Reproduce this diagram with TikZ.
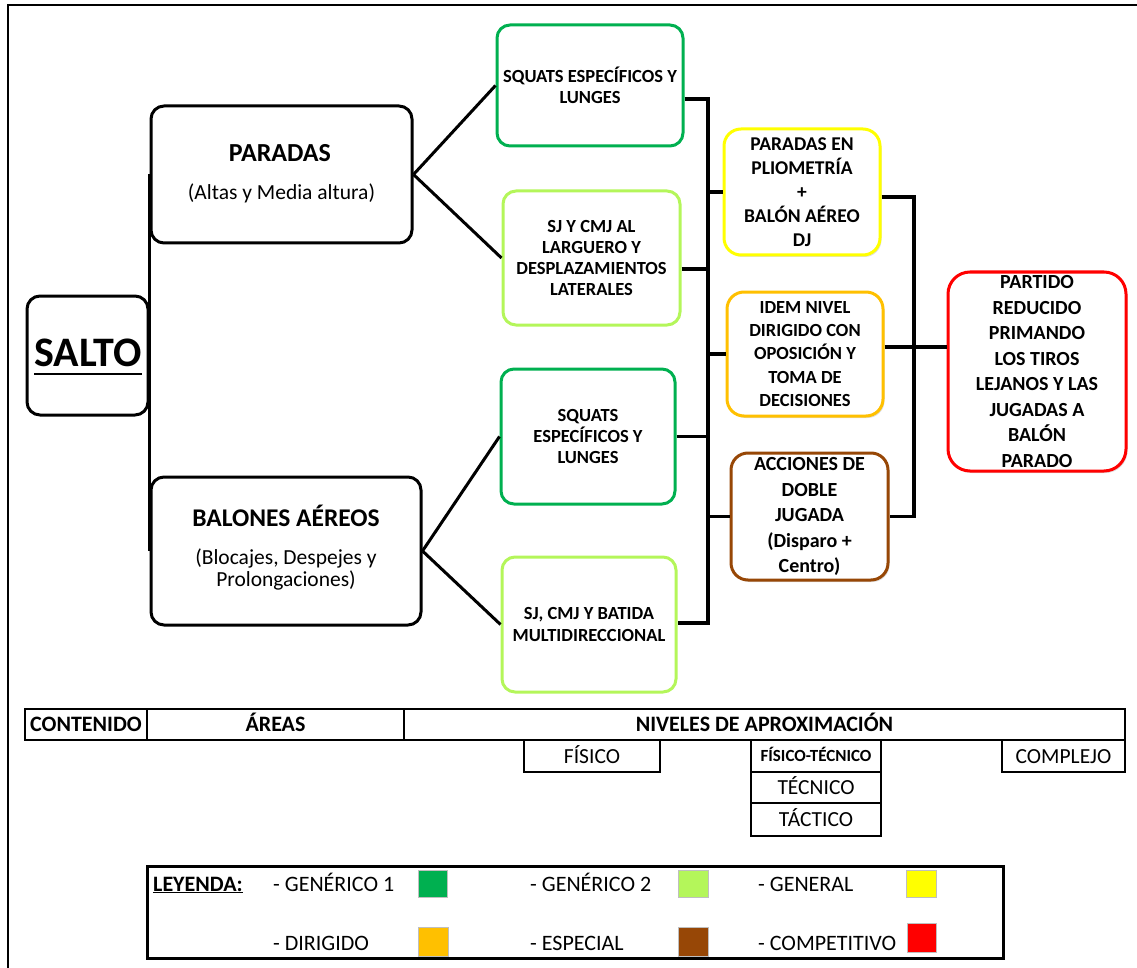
\documentclass[tikz,border=0pt]{standalone}
\usepackage{fontspec}
\setmainfont{Carlito}
\usetikzlibrary{shadows,calc}
\definecolor{cgreen}{RGB}{0,176,80}
\definecolor{clgreen}{RGB}{180,246,90}
\definecolor{cyellow}{RGB}{255,255,0}
\definecolor{corange}{RGB}{255,192,0}
\definecolor{cbrown}{RGB}{151,71,6}
\definecolor{cred}{RGB}{255,0,0}
\tikzset{
  box/.style={draw, rounded corners=13pt, line width=3pt, align=center, inner sep=0pt, fill=white,
    font=\bfseries\fontsize{18.5}{21}\selectfont},
  shad/.style={drop shadow={opacity=0.25, shadow xshift=1.5pt, shadow yshift=-2pt}},
  conn/.style={line width=3.5pt},
  diag/.style={line width=3pt},
  cell/.style={draw, line width=2pt, inner sep=0pt, text height=14pt, text depth=0pt,
    font=\fontsize{21.5}{24}\selectfont},
  hcell/.style={cell, line width=2.5pt, font=\bfseries\fontsize{22}{24}\selectfont},
  sw/.style={draw=black!25, line width=0.6pt, inner sep=0pt},
  lgtext/.style={anchor=base west, inner sep=0pt, font=\fontsize{22}{24}\selectfont},
}
\begin{document}
\begin{tikzpicture}[x=1pt,y=-1pt]
\useasboundingbox (0,0) rectangle (1137,968);
% outer frame
\draw[line width=2.5pt] (8,990) -- (8,5) -- (1160,5);

% level 0 and 1
\node[box, minimum width=121pt, minimum height=119pt] (salto) at (87.5,355.5) {};
\node[anchor=base, inner sep=0pt, font=\bfseries\fontsize{42}{42}\selectfont] (saltoT) at (88,366) {SALTO};
\draw[line width=2.6pt] ([yshift=-8pt]saltoT.base west) -- ([yshift=-8pt]saltoT.base east);

\node[box, minimum width=261pt, minimum height=137pt] (paradas) at (281.5,174.5) {};
\node[anchor=base, inner sep=0pt, font=\bfseries\fontsize{26}{26}\selectfont] (paradasT) at (280,162) {PARADAS};
\node[anchor=base, inner sep=0pt, font=\fontsize{21.5}{22}\selectfont] (paradasS) at (281.5,200) {(Altas y Media altura)};

\node[box, minimum width=270pt, minimum height=148pt] (balones) at (286,551) {};
\node[anchor=base, inner sep=0pt, font=\bfseries\fontsize{25.5}{26}\selectfont] (balonesT) at (286,526) {BALONES AÉREOS};
\node[anchor=base, inner sep=0pt, font=\fontsize{21.5}{22}\selectfont] (balonesS1) at (286,564) {(Blocajes, Despejes y};
\node[anchor=base, inner sep=0pt, font=\fontsize{21.5}{22}\selectfont] (balonesS2) at (286,586) {Prolongaciones)};

% level 2
\node[box, draw=cgreen, minimum width=186pt, minimum height=121pt] (box1) at (590,85.5) {SQUATS ESPECÍFICOS Y\\LUNGES};
\node[box, draw=clgreen, minimum width=177pt, minimum height=134pt, font=\bfseries\fontsize{18.5}{20.7}\selectfont] (box2) at (591.5,258) {SJ Y CMJ AL\\LARGUERO Y\\DESPLAZAMIENTOS\\LATERALES};
\node[box, draw=cgreen, minimum width=174pt, minimum height=135pt] (box3) at (588,436.5) {SQUATS\\ESPECÍFICOS Y\\LUNGES};
\node[box, draw=clgreen, minimum width=174pt, minimum height=135pt, font=\bfseries\fontsize{18.5}{22}\selectfont] (box4) at (589,624.5) {SJ, CMJ Y BATIDA\\MULTIDIRECCIONAL};

% level 3
\node[box, shad, draw=cyellow, rounded corners=17pt, minimum width=156pt, minimum height=126pt, font=\bfseries\fontsize{19.5}{24}\selectfont] (yellow) at (802,192) {PARADAS EN\\PLIOMETRÍA\\+\\BALÓN AÉREO\\DJ};
\node[box, shad, draw=corange, rounded corners=17pt, minimum width=156pt, minimum height=124pt, font=\bfseries\fontsize{18.5}{23.3}\selectfont] (orange) at (805,354) {IDEM NIVEL\\DIRIGIDO CON\\OPOSICIÓN Y\\TOMA DE\\DECISIONES};
\node[box, shad, draw=cbrown, rounded corners=17pt, minimum width=157pt, minimum height=127pt, font=\bfseries\fontsize{20}{25.5}\selectfont] (brown) at (809.5,516.5) {ACCIONES DE\\DOBLE\\JUGADA\\(Disparo +\\Centro)};

% level 4
\node[box, shad, draw=cred, rounded corners=22pt, minimum width=178pt, minimum height=199pt, font=\bfseries\fontsize{20}{25.5}\selectfont] (red) at (1037,371.5) {PARTIDO\\REDUCIDO\\PRIMANDO\\LOS TIROS\\LEJANOS Y LAS\\JUGADAS A\\BALÓN\\PARADO};

% connectors
\draw[conn] (paradas.west) -- (balones.west);
\draw[diag] (paradas.east) -- (box1.west);
\draw[diag] (paradas.east) -- (box2.west);
\draw[diag] (balones.east) -- (box3.west);
\draw[diag] (balones.east) -- (box4.west);

\coordinate (busT) at (708,99);
\coordinate (busB) at (708,623);
\draw[conn] ([yshift=-13.5pt]box1.east) -- (busT) -- (busB) -- (box4.east |- busB);
\draw[conn] ([yshift=-11pt]box2.east) -- ([yshift=-11pt]box2.east -| busT);
\draw[conn] (box3.east) -- (box3.east -| busT);
\draw[conn] (yellow.west -| busT) -- (yellow.west);
\draw[conn] (orange.west -| busT) -- (orange.west);
\draw[conn] (brown.west -| busT) -- (brown.west);

\coordinate (rbT) at (914,197);
\coordinate (rbB) at (914,516.5);
\draw[conn] ([yshift=-5pt]yellow.east) -- (rbT) -- (rbB) -- (brown.east);
\draw[conn] ([yshift=7pt]orange.east) -- ([yshift=7pt]orange.east -| red.west);

% table
\node[hcell, minimum width=122pt, minimum height=31pt] (hcont) at (86,724.5) {CONTENIDO};
\node[hcell, minimum width=257pt, minimum height=31pt] (hareas) at (275.5,724.5) {ÁREAS};
\node[hcell, minimum width=721pt, minimum height=31pt] (hniv) at (764.5,724.5) {NIVELES DE APROXIMACIÓN};

\node[cell, minimum width=136pt, minimum height=32pt] (fisico) at (592,756) {FÍSICO};
\node[cell, minimum width=130pt, minimum height=32pt, text height=11pt, font=\bfseries\fontsize{17}{20}\selectfont] (ftec) at (816,756) {FÍSICO-TÉCNICO};
\node[cell, minimum width=130pt, minimum height=31pt] (tec) at (816,787.5) {TÉCNICO};
\node[cell, minimum width=130pt, minimum height=33pt] (tac) at (816,819.5) {TÁCTICO};
\node[cell, minimum width=123pt, minimum height=32pt] (compl) at (1063.5,756) {COMPLEJO};

% legend
\node[draw, line width=3pt, minimum width=856pt, minimum height=92pt, inner sep=0pt] (legend) at (575,912) {};
\node[lgtext, font=\bfseries\fontsize{22}{24}\selectfont] (ley) at (153,891) {\underline{LEYENDA:}};
\node[lgtext] (t1) at (273,891) {- GENÉRICO 1};
\node[lgtext] (t2) at (530,891) {- GENÉRICO 2};
\node[lgtext] (t3) at (758,891) {- GENERAL};
\node[lgtext] (t4) at (273,950) {- DIRIGIDO};
\node[lgtext] (t5) at (530,950) {- ESPECIAL};
\node[lgtext] (t6) at (758,950) {- COMPETITIVO};
\node[sw, fill=cgreen, minimum width=29pt, minimum height=27pt] (s1) at (432.5,883.5) {};
\node[sw, fill=clgreen, minimum width=30pt, minimum height=27pt] (s2) at (693,883.5) {};
\node[sw, fill=cyellow, minimum width=30pt, minimum height=27pt] (s3) at (921,883.5) {};
\node[sw, fill=corange, minimum width=30pt, minimum height=29pt] (s4) at (433,941.5) {};
\node[sw, fill=cbrown, minimum width=30pt, minimum height=29pt] (s5) at (693,941.5) {};
\node[sw, fill=cred, minimum width=29pt, minimum height=29pt] (s6) at (921.5,937.5) {};
\end{tikzpicture}
\end{document}
